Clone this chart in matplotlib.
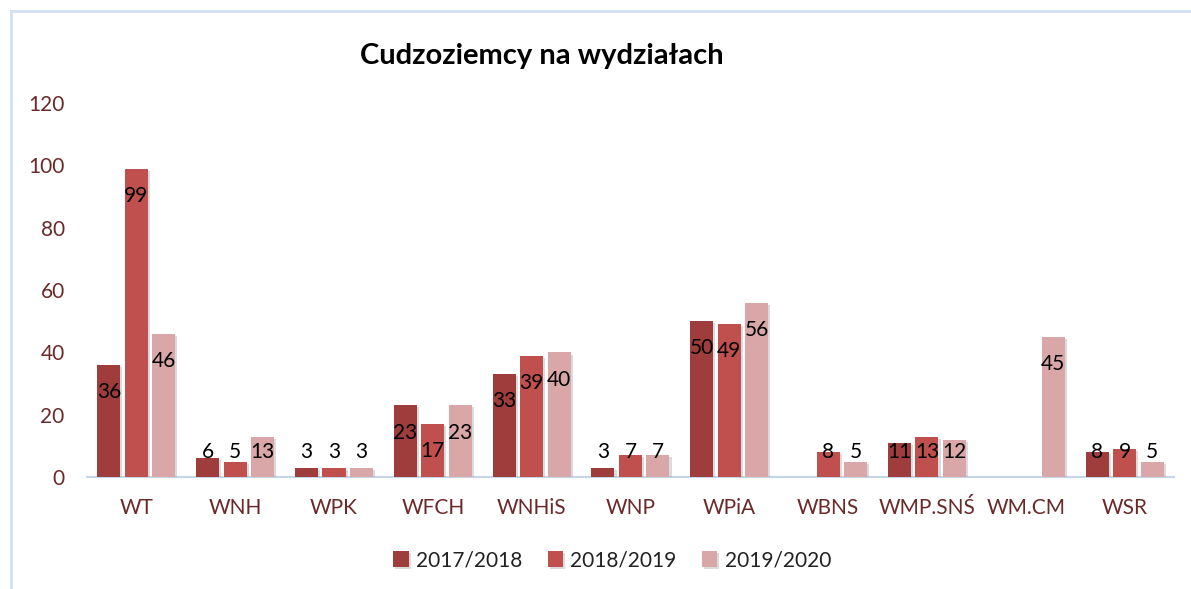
import matplotlib.pyplot as plt
import matplotlib.patheffects as pe
from matplotlib.lines import Line2D
import numpy as np

plt.rcParams['font.family'] = ['Lato', 'DejaVu Sans']

faculties = ['WT', 'WNH', 'WPK', 'WFCH', 'WNHiS', 'WNP', 'WPiA', 'WBNS', 'WMP.SNŚ', 'WM.CM', 'WSR']
years = ['2017/2018', '2018/2019', '2019/2020']
y2017 = [36, 6, 3, 23, 33, 3, 50, 0, 11, 0, 8]
y2018 = [99, 5, 3, 17, 39, 7, 49, 8, 13, 0, 9]
y2019 = [46, 13, 3, 23, 40, 7, 56, 5, 12, 45, 5]
colors = ['#9e3d3c', '#c0504d', '#d9a7a7']

fig = plt.figure(figsize=(11.91, 5.89), dpi=100)
ax = fig.add_axes([0.073, 0.190, 0.9127, 0.635])

x = np.arange(len(faculties))
width = 0.233
step = 0.278
shadow = [pe.SimplePatchShadow(offset=(1.5, -1.5), shadow_rgbFace='#999999', alpha=0.35), pe.Normal()]

for i, (vals, c, lab) in enumerate(zip([y2017, y2018, y2019], colors, years)):
    pos = x + (i - 1) * step
    bars = ax.bar(pos, vals, width, color=c, label=lab, zorder=3)
    for b in bars:
        b.set_path_effects(shadow)
    for px, v in zip(pos, vals):
        if v == 0:
            continue
        ax.text(px, max(v - 8.7, 8.0), str(v), ha='center', va='center',
                fontsize=15, color='black', zorder=4)

ax.set_ylim(0, 120)
ax.set_xlim(-0.5, len(faculties) - 0.5)
ax.set_yticks(range(0, 121, 20))
ax.tick_params(axis='y', length=0, labelsize=15, labelcolor='#6b2a2a', pad=16)
ax.tick_params(axis='x', length=0, labelsize=15, labelcolor='#6b2a2a', pad=15)
ax.set_xticks(x)
ax.set_xticklabels(faculties)
for s in ['top', 'right', 'left']:
    ax.spines[s].set_visible(False)
ax.spines['bottom'].set_color('#c5d6ea')
ax.spines['bottom'].set_linewidth(1.5)

fig.text(0.455, 0.905, 'Cudzoziemcy na wydziałach', ha='center', va='center',
         fontsize=21, fontweight='bold', color='black')

leg = fig.legend(loc='center', bbox_to_anchor=(0.514, 0.049), ncol=3, frameon=False,
                 fontsize=15, handlelength=0.75, handleheight=0.75, handletextpad=0.35,
                 columnspacing=1.2)
for t in leg.get_texts():
    t.set_color('#222222')

# chart frame (top and left edges)
fig.add_artist(Line2D([11 / 1191, 1.0], [1 - 11 / 589] * 2, transform=fig.transFigure,
                      color='#d4e1f4', linewidth=2))
fig.add_artist(Line2D([11 / 1191] * 2, [0, 1 - 11 / 589], transform=fig.transFigure,
                      color='#d4e1f4', linewidth=2))

plt.savefig('out.png', dpi=100)
